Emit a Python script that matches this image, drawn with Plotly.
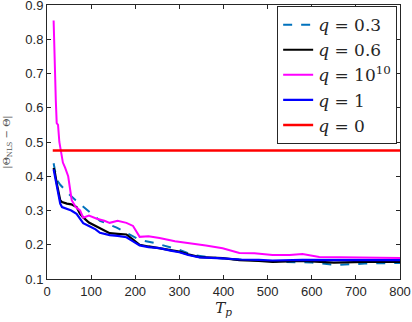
import plotly.graph_objects as go

# values
t_03 = [15, 18, 22, 30, 40, 52, 65, 86, 100, 120, 158, 180, 210, 244, 270, 300, 330,
        370, 420, 480, 540, 600, 655, 720, 800]
y_03 = [0.438, 0.42, 0.39, 0.375, 0.36, 0.345, 0.33, 0.307, 0.29, 0.27, 0.25, 0.235,
        0.214, 0.205, 0.195, 0.185, 0.17, 0.163, 0.158, 0.153, 0.15, 0.148, 0.141, 0.145, 0.147]

t_06 = [15, 18, 22, 26, 30, 34, 45, 55, 67, 75, 82, 95, 110, 120, 142, 160, 180, 195,
        210, 230, 255, 280, 300, 320, 346, 398, 436, 480, 511, 579, 650, 720, 800]
y_06 = [0.424, 0.41, 0.38, 0.35, 0.33, 0.325, 0.32, 0.318, 0.31, 0.29, 0.28, 0.265,
        0.255, 0.25, 0.234, 0.232, 0.23, 0.215, 0.2, 0.195, 0.19, 0.185, 0.18, 0.172,
        0.164, 0.161, 0.155, 0.153, 0.15, 0.153, 0.148, 0.15, 0.15]

t_big = [15, 18, 20, 22, 25, 28, 32, 36, 41, 48, 56, 65, 75, 82, 95, 113, 130, 142, 160,
         180, 195, 210, 230, 255, 290, 323, 360, 398, 436, 470, 511, 550, 579, 617, 680,
         740, 800]
y_big = [0.855, 0.65, 0.62, 0.555, 0.55, 0.5, 0.466, 0.44, 0.425, 0.4, 0.33, 0.31, 0.3,
         0.279, 0.285, 0.276, 0.27, 0.264, 0.27, 0.264, 0.255, 0.223, 0.225, 0.22, 0.21,
         0.205, 0.198, 0.19, 0.176, 0.175, 0.17, 0.17, 0.173, 0.164, 0.163, 0.162, 0.161]

t_1 = t_06
y_1 = [0.42, 0.4, 0.37, 0.34, 0.32, 0.31, 0.305, 0.3, 0.29, 0.275, 0.263, 0.255, 0.245,
       0.235, 0.228, 0.226, 0.222, 0.21, 0.198, 0.193, 0.19, 0.183, 0.178, 0.17, 0.163,
       0.16, 0.157, 0.156, 0.154, 0.156, 0.155, 0.156, 0.155]

t_0 = [13, 800]
y_0 = [0.475, 0.475]

series = [
    ("<i>q</i> = 0.3", t_03, y_03, "rgb(0,114,189)", "dash", 2),
    ("<i>q</i> = 0.6", t_06, y_06, "black", "solid", 2.2),
    ("<i>q</i> = 10<sup>10</sup>", t_big, y_big, "#ff00ff", "solid", 2),
    ("<i>q</i> = 1", t_1, y_1, "#0000ff", "solid", 2.2),
    ("<i>q</i> = 0", t_0, y_0, "#ff0000", "solid", 2.5),
]

fig = go.Figure()
for name, x, y, color, dash, w in series:
    fig.add_trace(go.Scatter(
        x=x, y=y, mode="lines", name=name,
        line=dict(color=color, dash=dash, width=w),
    ))

axis_style = dict(
    showline=True, linecolor="#262626", linewidth=1, mirror="allticks",
    ticks="inside", ticklen=4, tickcolor="#262626", showgrid=False, zeroline=False,
    automargin=False, ticklabeloverflow="allow",
    tickfont=dict(family="Liberation Sans, Arial", size=13, color="#262626"),
)

fig.update_layout(
    width=412, height=322,
    margin=dict(l=47, r=12, t=5, b=43),
    paper_bgcolor="white", plot_bgcolor="white",
    showlegend=True,
    legend=dict(
        x=0.652, y=0.996, xanchor="left", yanchor="top",
        bgcolor="white", bordercolor="#262626", borderwidth=1,
        font=dict(family="DejaVu Serif", size=17, color="#262626"),
        itemwidth=30, tracegroupgap=0,
    ),
    xaxis=dict(range=[0, 800], tickvals=[0, 100, 200, 300, 400, 500, 600, 700, 800],
               title=dict(text="<i>T</i><sub><i>p</i></sub>", standoff=4,
                          font=dict(family="DejaVu Serif", size=15, color="#262626")),
               **axis_style),
    yaxis=dict(range=[0.1, 0.9], tickvals=[0.1, 0.2, 0.3, 0.4, 0.5, 0.6, 0.7, 0.8, 0.9],
               tickformat=".1f",
               title=dict(text="|Θ<sub>NLS</sub> − Θ|", standoff=12,
                          font=dict(family="DejaVu Serif", size=10, color="#555555")),
               **axis_style),
)

# drop the browser's default body margin so the figure sits at the page corner
fig.write_html("out.html", config={"displayModeBar": False},
               post_script="document.body.style.margin='0';")
